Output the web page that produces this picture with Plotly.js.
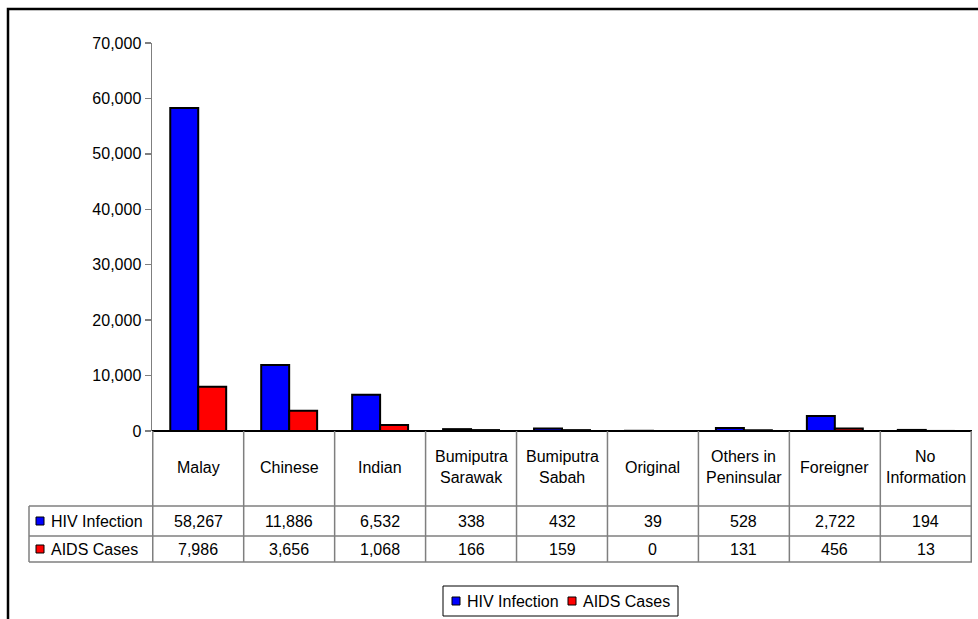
<!DOCTYPE html>
<html>
<head>
<meta charset="utf-8">
<script src="https://cdn.plot.ly/plotly-3.0.1.min.js"></script>
<style>
html,body{margin:0;padding:0;background:#fff;}
#chart{width:978px;height:619px;}
</style>
</head>
<body>
<div id="chart"></div>
<script>
const categories = ["Malay","Chinese","Indian","Bumiputra Sarawak","Bumiputra Sabah","Original","Others in Peninsular","Foreigner","No Information"];
const categoryLines = [["Malay"],["Chinese"],["Indian"],["Bumiputra","Sarawak"],["Bumiputra","Sabah"],["Original"],["Others in","Peninsular"],["Foreigner"],["No","Information"]];
const hivInfection = [58267,11886,6532,338,432,39,528,2722,194];
const aidsCases = [7986,3656,1068,166,159,0,131,456,13];
const seriesNames = ["HIV Infection","AIDS Cases"];
const seriesColors = ["#0000ff","#ff0000"];
const yTickValues = [0,10000,20000,30000,40000,50000,60000,70000];

const FONT = "Liberation Sans, Arial, sans-serif";
const FS = 16;

// pixel geometry helpers (plot area: x 152..972, y 43..431)
const L = 152, R = 6, T = 43, B = 188, W = 978, H = 619;
const PW = W - L - R, PH = H - T - B;
const px = v => (v - L) / PW;
const py = v => (H - B - v) / PH;

const traces = [hivInfection, aidsCases].map((vals, k) => ({
  type: "bar",
  name: seriesNames[k],
  x: categories,
  y: vals,
  marker: {color: seriesColors[k], line: {color: "#000", width: 2}},
  hoverinfo: "x+y+name",
  showlegend: false
}));

const shapes = [];
const annotations = [];
const grey = "#7f7f7f";

// outer chart border
shapes.push({type: "rect", xref: "paper", yref: "paper",
  x0: px(8), x1: px(1100), y0: py(9), y1: py(800),
  line: {color: "#000", width: 2.5}, fillcolor: "rgba(0,0,0,0)", layer: "above"});

// table vertical lines at category boundaries
for (let i = 0; i <= categories.length; i++) {
  shapes.push({type: "line", xref: "x", yref: "paper",
    x0: i - 0.5, x1: i - 0.5, y0: py(431), y1: py(562),
    line: {color: grey, width: 1.5}});
}
// header column left line
shapes.push({type: "line", xref: "paper", yref: "paper",
  x0: px(29), x1: px(29), y0: py(506), y1: py(562), line: {color: grey, width: 1.5}});
// horizontal row lines
[506, 536, 562].forEach(yy => {
  shapes.push({type: "line", xref: "paper", yref: "paper",
    x0: px(29), x1: 1, y0: py(yy), y1: py(yy), line: {color: grey, width: 1.5}});
});

// category labels
categoryLines.forEach((lines, i) => {
  const n = lines.length;
  lines.forEach((t, j) => {
    annotations.push({xref: "x", yref: "paper", x: categories[i], y: py(467),
      yshift: -(j - (n - 1) / 2) * 21.5,
      text: t, showarrow: false, font: {family: FONT, size: FS, color: "#000"},
      xanchor: "center", yanchor: "middle"});
  });
});

// data rows
const rows = [hivInfection, aidsCases];
const rowY = [521, 549];
rows.forEach((vals, k) => {
  vals.forEach((v, i) => {
    annotations.push({xref: "x", yref: "paper", x: categories[i], y: py(rowY[k]),
      text: v.toLocaleString("en-US"), showarrow: false,
      font: {family: FONT, size: FS, color: "#000"}, xanchor: "center", yanchor: "middle"});
  });
  // row header key + label
  shapes.push({type: "rect", xref: "paper", yref: "paper",
    x0: px(36), x1: px(44), y0: py(rowY[k] - 4), y1: py(rowY[k] + 4),
    fillcolor: seriesColors[k], line: {color: "#000", width: 1}});
  annotations.push({xref: "paper", yref: "paper", x: px(49), y: py(rowY[k]),
    text: seriesNames[k], showarrow: false,
    font: {family: FONT, size: FS, color: "#000"}, xanchor: "left", yanchor: "middle"});
});

// legend (drawn as key squares + labels inside a bordered box)
shapes.push({type: "rect", xref: "paper", yref: "paper",
  x0: px(443), x1: px(678), y0: py(586), y1: py(616),
  line: {color: "#000", width: 1}, fillcolor: "#fff"});
const legendKeyX = [452, 568];
seriesNames.forEach((name, k) => {
  shapes.push({type: "rect", xref: "paper", yref: "paper",
    x0: px(legendKeyX[k]), x1: px(legendKeyX[k] + 8), y0: py(601 - 4), y1: py(601 + 4),
    fillcolor: seriesColors[k], line: {color: "#000", width: 1}});
  annotations.push({xref: "paper", yref: "paper", x: px(legendKeyX[k] + 13), y: py(601),
    text: name, showarrow: false,
    font: {family: FONT, size: FS, color: "#000"}, xanchor: "left", yanchor: "middle"});
});

const layout = {
  width: W, height: H,
  margin: {l: L, r: R, t: T, b: B},
  paper_bgcolor: "#fff", plot_bgcolor: "#fff",
  font: {family: FONT, size: FS, color: "#000"},
  barmode: "group",
  bargap: 0.385,
  bargroupgap: 0,
  showlegend: false,
  xaxis: {type: "category", showticklabels: false, ticks: "", showgrid: false,
    zeroline: false, showline: false, fixedrange: true},
  yaxis: {range: [0, 70000], tickvals: yTickValues, tickformat: ",d",
    ticks: "outside", ticklen: 6, tickcolor: grey, tickwidth: 1.5,
    showline: true, linecolor: grey, linewidth: 1.5,
    showgrid: false, zeroline: true, zerolinecolor: "#000", zerolinewidth: 2,
    tickfont: {family: FONT, size: FS, color: "#000"}, fixedrange: true},
  shapes: shapes,
  annotations: annotations
};

Plotly.newPlot("chart", traces, layout, {displayModeBar: false, staticPlot: true});
</script>
</body>
</html>
